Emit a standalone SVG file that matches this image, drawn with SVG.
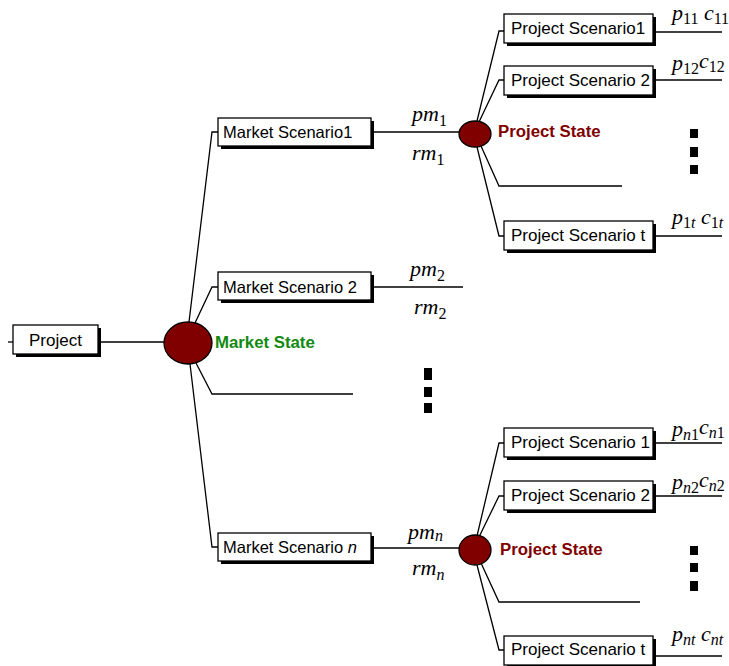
<svg xmlns="http://www.w3.org/2000/svg" width="729" height="666" viewBox="0 0 729 666">
<style>
.box{fill:#fff;stroke:#000;stroke-width:1.3}
.sh{fill:#000}
.bt{font-family:"Liberation Sans",Arial,sans-serif;font-size:16.5px;fill:#000}
.pt{font-size:17px}
.ln{fill:none;stroke:#000;stroke-width:1.3}
.st{fill:#800000;stroke:#000;stroke-width:1.3}
.m{font-family:"Liberation Serif","Times New Roman",serif;font-size:22px;font-style:italic;fill:#000}
.s{font-size:16px;font-style:normal}
.si{font-size:16px;font-style:italic}
.lab{font-family:"Liberation Sans",Arial,sans-serif;font-size:16.8px;font-weight:bold}
.dot{fill:#000}
</style>
<g id="connectors">
  <polyline class="ln" points="8,342 13,342"/>
  <polyline class="ln" points="98,342 164,342"/>
  <polyline class="ln" points="189,322 212,132 218,132"/>
  <polyline class="ln" points="195,323 212,287 218,287"/>
  <polyline class="ln" points="196,363 212,394 353,394"/>
  <polyline class="ln" points="190,364 212,547 218,547"/>
  <polyline class="ln" points="371,132 460,132"/>
  <polyline class="ln" points="371,287 463,287"/>
  <polyline class="ln" points="371,548 460,548"/>
  <polyline class="ln" points="477,121 499,31 504,31"/>
  <polyline class="ln" points="479,122 499,80 504,80"/>
  <polyline class="ln" points="481,146 499,186 622,186"/>
  <polyline class="ln" points="477,147 499,236 504,236"/>
  <polyline class="ln" points="653,32 722,32"/>
  <polyline class="ln" points="653,80 722,80"/>
  <polyline class="ln" points="653,236 722,236"/>
  <polyline class="ln" points="477,536 499,443 504,443"/>
  <polyline class="ln" points="479,537 499,496 504,496"/>
  <polyline class="ln" points="481,563 499,602 640,602"/>
  <polyline class="ln" points="477,565 499,650 504,650"/>
  <polyline class="ln" points="653,443 722,443"/>
  <polyline class="ln" points="653,496 722,496"/>
  <polyline class="ln" points="653,656 722,656"/>
</g>
<g id="project">
  <rect class="sh" x="16" y="328" width="85" height="29"/>
  <rect class="box" x="13" y="325" width="85" height="29"/>
  <text class="bt pt" x="55.5" y="346" text-anchor="middle">Project</text>
</g>
<g id="market-state">
  <ellipse class="st" cx="188" cy="343" rx="24" ry="21"/>
  <text class="lab" x="215" y="348" fill="#128a12">Market State</text>
</g>
<g id="market-scenario-1">
  <rect class="sh" x="221" y="121" width="153" height="28"/>
  <rect class="box" x="218" y="118" width="153" height="28"/>
  <text class="bt" x="223" y="138">Market Scenario1</text>
</g>
<g id="market-scenario-2">
  <rect class="sh" x="221" y="275" width="153" height="28"/>
  <rect class="box" x="218" y="272" width="153" height="28"/>
  <text class="bt" x="223" y="293">Market Scenario 2</text>
</g>
<g id="market-scenario-n">
  <rect class="sh" x="221" y="536" width="153" height="28"/>
  <rect class="box" x="218" y="533" width="153" height="28"/>
  <text class="bt" x="223" y="553">Market Scenario <tspan font-style="italic">n</tspan></text>
</g>
<g id="labels-market">
  <text class="m" x="412" y="121">pm<tspan class="s" dy="5">1</tspan></text>
  <text class="m" x="412" y="160">rm<tspan class="s" dy="5">1</tspan></text>
  <text class="m" x="410" y="276">pm<tspan class="s" dy="5">2</tspan></text>
  <text class="m" x="414" y="314">rm<tspan class="s" dy="5">2</tspan></text>
  <text class="m" x="408" y="539">pm<tspan class="si" dy="2">n</tspan></text>
  <text class="m" x="412" y="575">rm<tspan class="si" dy="5">n</tspan></text>
</g>
<g id="middle-dots">
  <rect class="dot" x="424" y="368" width="8" height="12"/>
  <rect class="dot" x="424" y="387" width="8" height="10"/>
  <rect class="dot" x="424" y="403" width="8" height="10"/>
</g>
<g id="project-state-1">
  <ellipse class="st" cx="475" cy="134" rx="16" ry="13"/>
  <text class="lab" x="498" y="137" fill="#800000">Project State</text>
</g>
<g id="ps-1-1">
  <rect class="sh" x="507" y="17" width="149" height="29"/>
  <rect class="box" x="504" y="14" width="149" height="29"/>
  <text class="bt pt" x="511" y="34">Project Scenario1</text>
</g>
<g id="ps-1-2">
  <rect class="sh" x="507" y="69" width="149" height="29"/>
  <rect class="box" x="504" y="66" width="149" height="29"/>
  <text class="bt pt" x="511" y="86">Project Scenario 2</text>
</g>
<g id="ps-1-t">
  <rect class="sh" x="507" y="224" width="149" height="29"/>
  <rect class="box" x="504" y="221" width="149" height="29"/>
  <text class="bt pt" x="511" y="241">Project Scenario t</text>
</g>
<g id="labels-1">
  <text class="m" x="672" y="20">p<tspan class="s" dy="4">11</tspan><tspan dy="-4"> c</tspan><tspan class="s" dy="4">11</tspan></text>
  <text class="m" x="672" y="70">p<tspan class="s" dy="4">12</tspan><tspan dy="-6">c</tspan><tspan class="s" dy="4">12</tspan></text>
  <text class="m" x="672" y="224">p<tspan class="s" dy="4">1</tspan><tspan class="si">t</tspan><tspan dy="-4">  c</tspan><tspan class="s" dy="4">1</tspan><tspan class="si">t</tspan></text>
</g>
<g id="dots-1">
  <rect class="dot" x="690" y="129" width="8" height="9"/>
  <rect class="dot" x="690" y="147" width="8" height="10"/>
  <rect class="dot" x="690" y="165" width="8" height="9"/>
</g>
<g id="project-state-n">
  <ellipse class="st" cx="475" cy="550" rx="16" ry="15"/>
  <text class="lab" x="500" y="555" fill="#800000">Project State</text>
</g>
<g id="ps-n-1">
  <rect class="sh" x="507" y="431" width="149" height="29"/>
  <rect class="box" x="504" y="428" width="149" height="29"/>
  <text class="bt pt" x="511" y="448">Project Scenario 1</text>
</g>
<g id="ps-n-2">
  <rect class="sh" x="507" y="484" width="149" height="29"/>
  <rect class="box" x="504" y="481" width="149" height="29"/>
  <text class="bt pt" x="511" y="501">Project Scenario 2</text>
</g>
<g id="ps-n-t">
  <rect class="sh" x="507" y="639" width="149" height="29"/>
  <rect class="box" x="504" y="636" width="149" height="29"/>
  <text class="bt pt" x="511" y="655">Project Scenario t</text>
</g>
<g id="labels-n">
  <text class="m" x="672" y="436">p<tspan class="si" dy="4">n</tspan><tspan class="s">1</tspan><tspan dy="-6">c</tspan><tspan class="si" dy="4">n</tspan><tspan class="s">1</tspan></text>
  <text class="m" x="672" y="489">p<tspan class="si" dy="4">n</tspan><tspan class="s">2</tspan><tspan dy="-6">c</tspan><tspan class="si" dy="4">n</tspan><tspan class="s">2</tspan></text>
  <text class="m" x="672" y="641">p<tspan class="si" dy="4">nt</tspan><tspan dy="-4"> c</tspan><tspan class="si" dy="4">nt</tspan></text>
</g>
<g id="dots-n">
  <rect class="dot" x="690" y="546" width="8" height="9"/>
  <rect class="dot" x="690" y="563" width="8" height="9"/>
  <rect class="dot" x="690" y="581" width="8" height="10"/>
</g>
</svg>
